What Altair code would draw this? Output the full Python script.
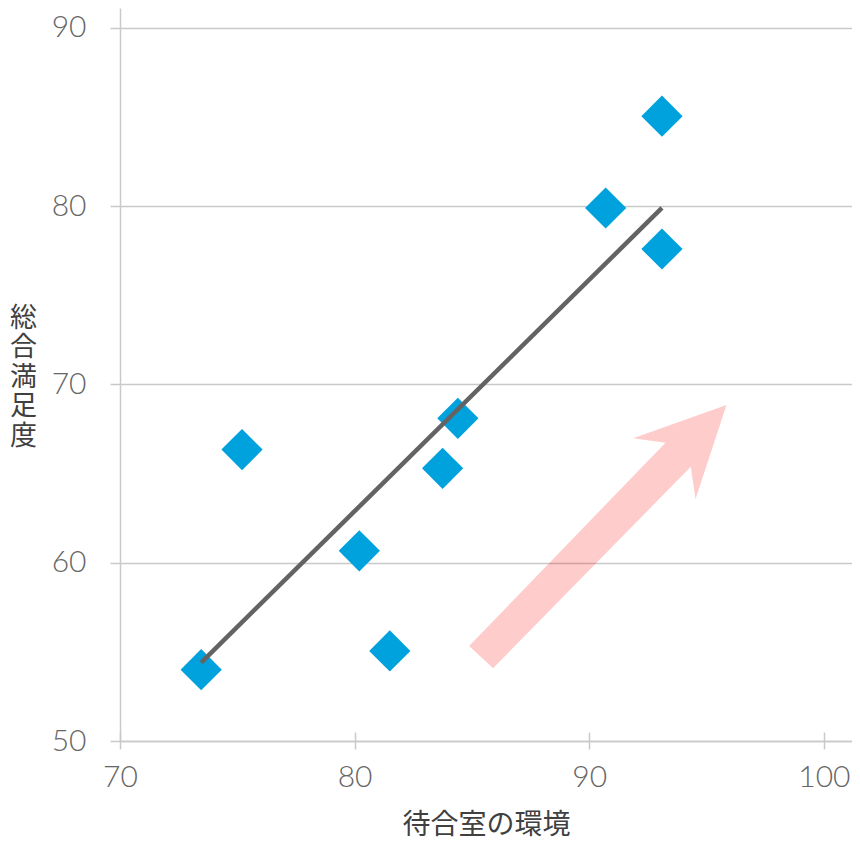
import altair as alt
import pandas as pd

# ---- data ----
env_x = [73.46, 75.2, 80.2, 81.5, 83.75, 84.4, 90.7, 93.1, 93.1]
sat_y = [54.0, 66.35, 60.67, 55.05, 65.3, 68.1, 79.9, 85.05, 77.6]
x_ticks = [70, 80, 90, 100]
y_ticks = [50, 60, 70, 80, 90]
x_domain = [70, 101.2]
y_domain = [50, 91.12]
arrow_tip_x = [95.85]
arrow_tip_y = [68.85]

x_title = "待合室の環境"
y_title = ["総", "合", "満", "足", "度"]

df = pd.DataFrame({"x": env_x, "y": sat_y})
arrow_df = pd.DataFrame({"x": arrow_tip_x, "y": arrow_tip_y})

# arrow outline (pixels, relative to the tip)
ARROW_PATH = ("M0,0 L-93.4,33.3 L-61,37.7 L-257.4,241 L-233.4,263.3 "
              "L-35.7,61.7 L-31,94.3 Z")

GRID = "#c9c9c9"
LABEL_FONT = "Lato"
CJK = "Noto Sans CJK JP"
W, H = 732, 733

xs = alt.Scale(domain=x_domain, nice=False, zero=False)
ys = alt.Scale(domain=y_domain, nice=False, zero=False)

x_axis = alt.Axis(
    values=x_ticks, format="d", title=x_title, grid=False, labelFlush=False,
    domainColor=GRID, domainWidth=1.5, tickColor=GRID, tickWidth=1.5,
    tickSize=8, labelFont=LABEL_FONT, labelFontSize=30, labelFontWeight=300,
    labelColor="#666666", labelPadding=13, labelOverlap=False,
    titleFont=CJK, titleFontSize=28, titleFontWeight="normal",
    titleColor="#404040", titlePadding=19,
)
y_axis = alt.Axis(
    values=y_ticks, format="d", title=y_title, grid=True, gridColor=GRID,
    gridWidth=1.5, domainColor=GRID, domainWidth=1.5, tickColor=GRID,
    tickWidth=1.5, tickSize=10, labelFont=LABEL_FONT, labelFontSize=30,
    labelFontWeight=300, labelFlush=False, labelOverlap=False,
    labelColor="#666666", labelPadding=24, titleFont=CJK, titleFontSize=27,
    titleFontWeight="normal", titleColor="#404040", titleAngle=0,
    titleAlign="center", titleBaseline="middle", titleLineHeight=29.5,
    titleX=-97, titleY=310,
)
x_top_ticks = alt.Axis(
    orient="top", offset=-H, values=x_ticks, labels=False, domain=False,
    grid=False, ticks=True, tickSize=9, tickColor=GRID, tickWidth=1.5,
    title=None,
)

arrow = alt.Chart(arrow_df).mark_point(
    shape=ARROW_PATH, size=4, filled=True, color="#ff0000", opacity=0.2
).encode(
    x=alt.X("x:Q", scale=xs, axis=None),
    y=alt.Y("y:Q", scale=ys, axis=None),
)

points = alt.Chart(df).mark_point(
    shape="diamond", filled=True, size=1700, color="#00a2de", opacity=1
).encode(
    x=alt.X("x:Q", scale=xs, axis=x_axis),
    y=alt.Y("y:Q", scale=ys, axis=y_axis),
)

trend = alt.Chart(df).transform_regression("x", "y").mark_line(
    color="#636363", strokeWidth=4.5
).encode(
    x=alt.X("x:Q", scale=xs, axis=x_top_ticks),
    y=alt.Y("y:Q", scale=ys, axis=None),
)

chart = alt.layer(arrow, points, trend).resolve_axis(
    x="independent", y="independent"
).properties(
    width=W, height=H,
    autosize=alt.AutoSizeParams(type="none"),
    padding={"left": 112, "top": 0, "right": 0, "bottom": 101},
).configure_view(stroke=None)

chart.save("out.html", embed_options={"renderer": "svg", "actions": False})
